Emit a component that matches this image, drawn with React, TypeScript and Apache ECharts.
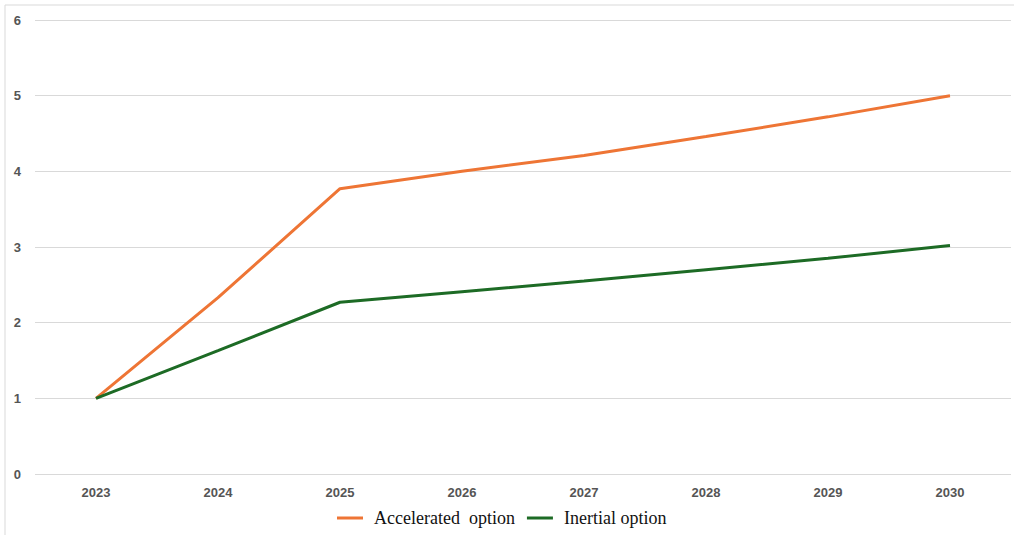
import React, { useEffect, useRef } from "react";
import * as echarts from "echarts";

const years = ["2023", "2024", "2025", "2026", "2027", "2028", "2029", "2030"];
const accelerated = [1.0, 2.33, 3.77, 4.0, 4.21, 4.46, 4.72, 5.0];
const inertial = [1.0, 1.63, 2.27, 2.41, 2.55, 2.7, 2.85, 3.02];

export default function App() {
  const ref = useRef<HTMLDivElement>(null);
  useEffect(() => {
    const chart = echarts.init(ref.current!, null, { renderer: "svg" });
    chart.setOption({
      animation: false,
      backgroundColor: "#ffffff",
      graphic: [
        {
          type: "rect",
          shape: { x: 5, y: 5, width: 1030, height: 545 },
          style: { fill: "none", stroke: "#d9d9d9", lineWidth: 1 },
          silent: true,
        },
      ],
      grid: { left: 35, right: 3, top: 20, bottom: 61, containLabel: false },
      legend: {
        bottom: 3,
        left: 332,
        itemWidth: 26,
        itemHeight: 3,
        itemGap: 12,
        icon: "rect",
        textStyle: {
          fontFamily: "Liberation Serif, Times New Roman, serif",
          fontSize: 18,
          color: "#111",
          padding: [0, 0, 0, 6],
        },
        data: ["Accelerated  option", "Inertial option"],
      },
      xAxis: {
        type: "category",
        data: years,
        boundaryGap: true,
        axisLine: { show: false },
        axisTick: { show: false },
        axisLabel: {
          color: "#555",
          fontWeight: "bold",
          fontSize: 13,
          fontFamily: "Liberation Sans, Arial, sans-serif",
          margin: 12,
        },
      },
      yAxis: {
        type: "value",
        min: 0,
        max: 6,
        interval: 1,
        axisLine: { show: false },
        axisTick: { show: false },
        splitLine: { lineStyle: { color: "#d9d9d9", width: 1 } },
        axisLabel: {
          color: "#555",
          fontWeight: "bold",
          fontSize: 13,
          fontFamily: "Liberation Sans, Arial, sans-serif",
          margin: 14,
        },
      },
      series: [
        {
          name: "Accelerated  option",
          type: "line",
          data: accelerated,
          symbol: "none",
          lineStyle: { color: "#EE7535", width: 3 },
          itemStyle: { color: "#EE7535" },
        },
        {
          name: "Inertial option",
          type: "line",
          data: inertial,
          symbol: "none",
          lineStyle: { color: "#1D6B25", width: 3 },
          itemStyle: { color: "#1D6B25" },
        },
      ],
    });
    return () => chart.dispose();
  }, []);
  return (
    <div
      ref={ref}
      style={{ position: "absolute", left: 0, top: 0, width: 1014, height: 535 }}
    />
  );
}
